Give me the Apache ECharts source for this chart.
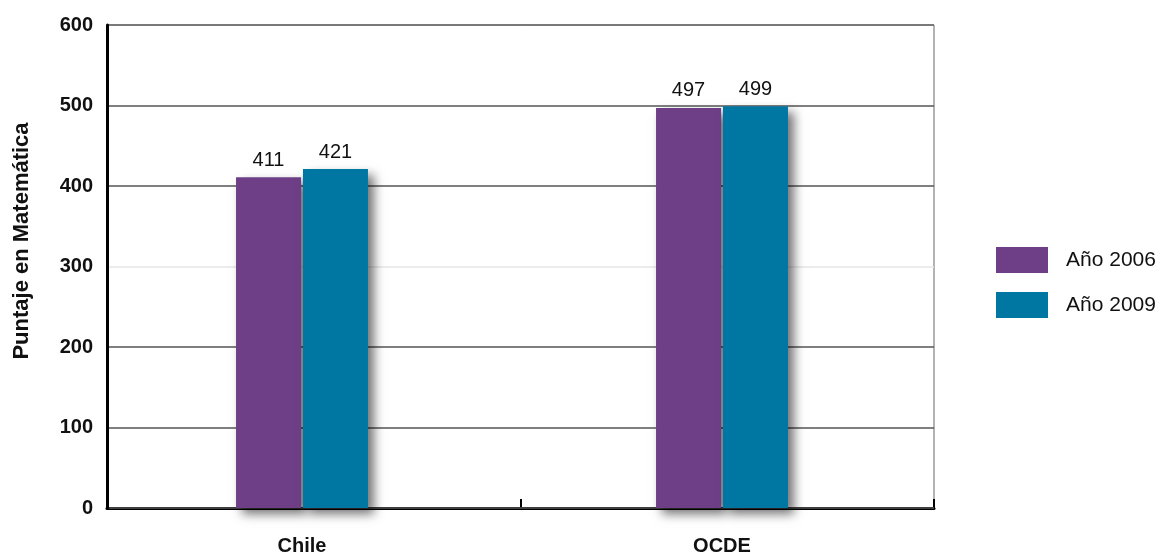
<!DOCTYPE html>
<html>
<head>
<meta charset="utf-8">
<script src="https://cdn.jsdelivr.net/npm/echarts@6/dist/echarts.min.js"></script>
<style>html,body{margin:0;padding:0;background:#fff}#c{width:1164px;height:555px}</style>
</head>
<body>
<div id="c"></div>
<script>
const categories = ['Chile', 'OCDE'];
const seriesNames = ['Año 2006', 'Año 2009'];
const values2006 = [411, 497];
const values2009 = [421, 499];
const yTicks = [0, 100, 200, 300, 400, 500, 600];
const yTitle = 'Puntaje en Matemática';

const FONT = 'Liberation Sans, Arial, sans-serif';
const chart = echarts.init(document.getElementById('c'), null, {renderer: 'canvas'});
const shadow = {shadowColor: 'rgba(0,0,0,0.55)', shadowBlur: 10, shadowOffsetX: 6, shadowOffsetY: 6};

chart.setOption({
  animation: false,
  backgroundColor: '#fff',
  grid: [
    {left: 92, right: 232, top: 25, bottom: 47, outerBoundsMode: 'none', containLabel: false},
    {left: 107, right: 230, top: 25, bottom: 47, outerBoundsMode: 'none', containLabel: false,
     show: true, borderColor: '#666', borderWidth: 1, backgroundColor: 'transparent'}
  ],
  legend: {
    orient: 'vertical', left: 996, top: 247, padding: 0,
    icon: 'rect',
    itemWidth: 52, itemHeight: 26, itemGap: 19,
    data: seriesNames,
    textStyle: {fontFamily: FONT, fontSize: 21, color: '#111', padding: [0, 0, 0, 13]}
  },
  xAxis: [
    {type: 'category', gridIndex: 0, data: categories,
     axisLine: {show: false}, axisTick: {show: false},
     axisLabel: {fontFamily: FONT, fontSize: 20, fontWeight: 'bold', color: '#111', margin: 28}},
    {type: 'category', gridIndex: 1, data: categories,
     axisLine: {show: true, lineStyle: {color: '#000', width: 3}},
     axisTick: {show: true, inside: true, length: 9, interval: 0, lineStyle: {color: '#000', width: 2}},
     axisLabel: {show: false}}
  ],
  yAxis: [
    {type: 'value', gridIndex: 0, min: yTicks[0], max: yTicks[yTicks.length - 1], interval: 100, show: false},
    {type: 'value', gridIndex: 1, min: yTicks[0], max: yTicks[yTicks.length - 1], interval: 100, z: 3,
     axisLine: {show: true, lineStyle: {color: '#000', width: 3}},
     axisTick: {show: false},
     axisLabel: {fontFamily: FONT, fontSize: 20, fontWeight: 'bold', color: '#111', margin: 14},
     splitLine: {show: true, lineStyle: {color: ['#555', '#555', '#555', '#e6e6e6', '#555', '#555', '#666'], width: 1.5}}}
  ],
  graphic: [{
    type: 'text', x: 22, y: 241, rotation: Math.PI / 2,
    style: {text: yTitle, fontFamily: FONT, fontSize: 22, fontWeight: 'bold', fill: '#111', textAlign: 'center', textVerticalAlign: 'middle'}
  }],
  series: [
    {name: seriesNames[0], type: 'bar', xAxisIndex: 0, yAxisIndex: 0, data: values2006,
     barWidth: 65, barGap: '3%', z: 5,
     itemStyle: Object.assign({color: '#6e3f86'}, shadow),
     label: {show: true, position: 'top', distance: 7, fontFamily: FONT, fontSize: 20, color: '#111'}},
    {name: seriesNames[1], type: 'bar', xAxisIndex: 0, yAxisIndex: 0, data: values2009,
     barWidth: 65, barGap: '3%', z: 5,
     itemStyle: Object.assign({color: '#0077a3'}, shadow),
     label: {show: true, position: 'top', distance: 7, fontFamily: FONT, fontSize: 20, color: '#111'}}
  ]
});
</script>
</body>
</html>
